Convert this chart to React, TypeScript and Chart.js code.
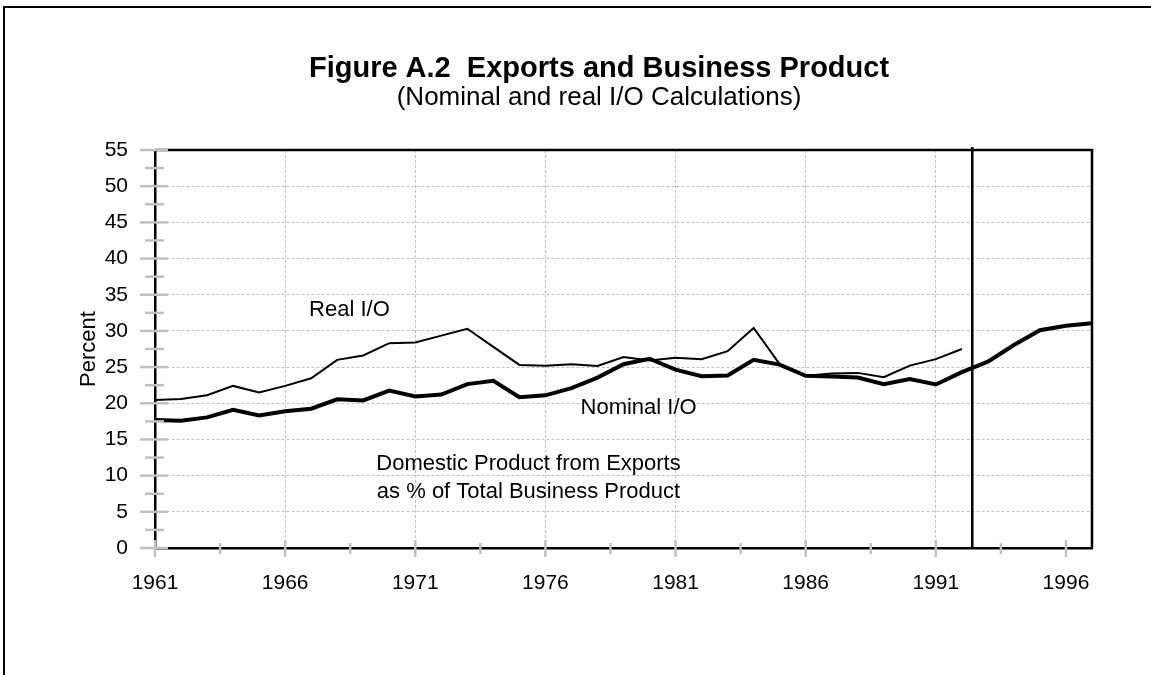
import React, { useEffect, useRef } from 'react';
import { Chart, registerables } from 'chart.js';

Chart.register(...registerables);

const FONT = "'Liberation Sans', Arial, Helvetica, sans-serif";

// ---- data ----
const years = [
  1961, 1962, 1963, 1964, 1965, 1966, 1967, 1968, 1969, 1970,
  1971, 1972, 1973, 1974, 1975, 1976, 1977, 1978, 1979, 1980,
  1981, 1982, 1983, 1984, 1985, 1986, 1987, 1988, 1989, 1990,
  1991, 1992, 1993, 1994, 1995, 1996, 1997,
];

// Real I/O ends in 1992
const realIO = [
  20.45, 20.6, 21.1, 22.4, 21.5, 22.4, 23.45, 26.0, 26.6, 28.3,
  28.4, 29.35, 30.3, 27.8, 25.3, 25.2, 25.4, 25.15, 26.4, 25.9,
  26.3, 26.1, 27.2, 30.4, 25.4, 23.8, 24.1, 24.2, 23.6, 25.2,
  26.1, 27.5,
];

const nominalIO = [
  17.7, 17.6, 18.05, 19.1, 18.3, 18.9, 19.25, 20.55, 20.4, 21.75,
  20.95, 21.2, 22.65, 23.1, 20.85, 21.1, 22.1, 23.55, 25.4, 26.15,
  24.65, 23.75, 23.85, 26.0, 25.35, 23.8, 23.7, 23.55, 22.65, 23.35,
  22.6, 24.3, 25.75, 28.05, 30.1, 30.7, 31.05,
];

// ---- axes ----
const xTickValues = [
  1961, 1963.5, 1966, 1968.5, 1971, 1973.5, 1976, 1978.5, 1981, 1983.5,
  1986, 1988.5, 1991, 1993.5, 1996,
];
const xLabelYears = [1961, 1966, 1971, 1976, 1981, 1986, 1991, 1996];
const xGridYears = [1966, 1971, 1976, 1981, 1986, 1991];
const yTickValues = [
  0, 2.5, 5, 7.5, 10, 12.5, 15, 17.5, 20, 22.5, 25, 27.5, 30, 32.5, 35,
  37.5, 40, 42.5, 45, 47.5, 50, 52.5, 55,
];
const yLabels = [0, 5, 10, 15, 20, 25, 30, 35, 40, 45, 50, 55];
const yGridValues = [5, 10, 15, 20, 25, 30, 35, 40, 45, 50];
const dividerYear = 1992.4;

// ---- text ----
const titleText = 'Figure A.2  Exports and Business Product';
const subtitleText = '(Nominal and real I/O Calculations)';
const yAxisTitle = 'Percent';
const annotations = [
  { text: 'Real I/O', x: 1968.47, y: 32.1 },
  { text: 'Nominal I/O', x: 1979.58, y: 18.5 },
  { text: 'Domestic Product from Exports', x: 1975.35, y: 10.8 },
  { text: 'as % of Total Business Product', x: 1975.35, y: 6.9 },
];

const GRID = '#c0c0c0';

const decorPlugin = {
  id: 'decor',
  afterDatasetsDraw(chart: any) {
    const { ctx, chartArea: a, scales } = chart;
    const xs = scales.x;
    const ys = scales.y;
    ctx.save();
    // top and right frame of the plot
    ctx.strokeStyle = '#000';
    ctx.lineWidth = 2.5;
    ctx.beginPath();
    ctx.moveTo(a.left, a.top);
    ctx.lineTo(a.right, a.top);
    ctx.lineTo(a.right, a.bottom);
    ctx.stroke();
    // divider line
    const dx = xs.getPixelForValue(dividerYear);
    ctx.beginPath();
    ctx.moveTo(dx, a.top - 3);
    ctx.lineTo(dx, a.bottom);
    ctx.stroke();
    // crossing tick marks
    ctx.strokeStyle = GRID;
    ctx.lineWidth = 2.5;
    yTickValues.forEach((v) => {
      const py = ys.getPixelForValue(v);
      const major = yLabels.includes(v);
      ctx.beginPath();
      ctx.moveTo(a.left - (major ? 15 : 10), py);
      ctx.lineTo(a.left + (major ? 13 : 9), py);
      ctx.stroke();
    });
    xTickValues.forEach((v) => {
      const px = xs.getPixelForValue(v);
      const major = xLabelYears.includes(v);
      ctx.beginPath();
      ctx.moveTo(px, a.bottom - (major ? 8 : 5));
      ctx.lineTo(px, a.bottom + (major ? 9 : 6));
      ctx.stroke();
    });
    // annotations
    ctx.fillStyle = '#000';
    ctx.textAlign = 'center';
    ctx.textBaseline = 'alphabetic';
    ctx.font = `22px ${FONT}`;
    annotations.forEach((t) => {
      ctx.fillText(t.text, xs.getPixelForValue(t.x), ys.getPixelForValue(t.y));
    });
    // titles
    ctx.font = `bold 29px ${FONT}`;
    ctx.fillText(titleText, 599, 77);
    ctx.font = `26px ${FONT}`;
    ctx.fillText(subtitleText, 599, 105);
    ctx.restore();
  },
};

export default function App() {
  const canvasRef = useRef<HTMLCanvasElement | null>(null);

  useEffect(() => {
    document.body.style.margin = '0';
    document.body.style.overflow = 'hidden';
    const canvas = canvasRef.current;
    if (!canvas) return;

    const chart = new Chart(canvas, {
      type: 'line',
      data: {
        datasets: [
          {
            label: 'Real I/O',
            data: realIO.map((v, i) => ({ x: years[i], y: v })),
            borderColor: '#000',
            borderWidth: 2,
            pointRadius: 0,
            tension: 0,
            fill: false,
          },
          {
            label: 'Nominal I/O',
            data: nominalIO.map((v, i) => ({ x: years[i], y: v })),
            borderColor: '#000',
            borderWidth: 4,
            pointRadius: 0,
            tension: 0,
            fill: false,
          },
        ],
      },
      options: {
        responsive: false,
        animation: false,
        events: [],
        layout: { padding: { left: 60, right: 59, top: 150, bottom: 67 } },
        plugins: {
          legend: { display: false },
          tooltip: { enabled: false },
          title: { display: false },
        },
        scales: {
          x: {
            type: 'linear',
            min: 1961,
            max: 1997,
            afterBuildTicks: (s: any) => {
              s.ticks = xTickValues.map((v) => ({ value: v }));
            },
            afterFit: (s: any) => {
              s.height = 60;
            },
            ticks: {
              autoSkip: false,
              maxRotation: 0,
              padding: 23,
              color: '#000',
              font: { family: FONT, size: 21 },
              callback: (v: any) => (xLabelYears.includes(v) ? String(v) : ''),
            },
            grid: {
              drawTicks: false,
              lineWidth: 1,
              color: (c: any) =>
                c.tick && xGridYears.includes(c.tick.value) ? GRID : 'rgba(0,0,0,0)',
            },
            border: { display: true, color: '#000', width: 2.5, dash: [3, 2] },
          },
          y: {
            type: 'linear',
            min: 0,
            max: 55,
            afterBuildTicks: (s: any) => {
              s.ticks = yTickValues.map((v) => ({ value: v }));
            },
            afterFit: (s: any) => {
              s.width = 95;
            },
            ticks: {
              autoSkip: false,
              padding: 27,
              color: '#000',
              font: { family: FONT, size: 21 },
              callback: (v: any) => (yLabels.includes(v) ? String(v) : ''),
            },
            grid: {
              drawTicks: false,
              lineWidth: 1,
              color: (c: any) =>
                c.tick && yGridValues.includes(c.tick.value) ? GRID : 'rgba(0,0,0,0)',
            },
            border: { display: true, color: '#000', width: 2.5, dash: [3, 2] },
            title: {
              display: true,
              text: yAxisTitle,
              color: '#000',
              font: { family: FONT, size: 22 },
              padding: { top: 16, bottom: 0 },
            },
          },
        },
      },
      plugins: [decorPlugin],
    });

    return () => chart.destroy();
  }, []);

  return (
    <div style={{ position: 'relative', width: 1151, height: 675, overflow: 'hidden', background: '#fff' }}>
      <canvas ref={canvasRef} width={1151} height={675} style={{ display: 'block' }} />
      <div
        style={{
          position: 'absolute',
          left: 3,
          top: 6,
          width: 2000,
          height: 2000,
          border: '2px solid #000',
          pointerEvents: 'none',
        }}
      />
    </div>
  );
}
